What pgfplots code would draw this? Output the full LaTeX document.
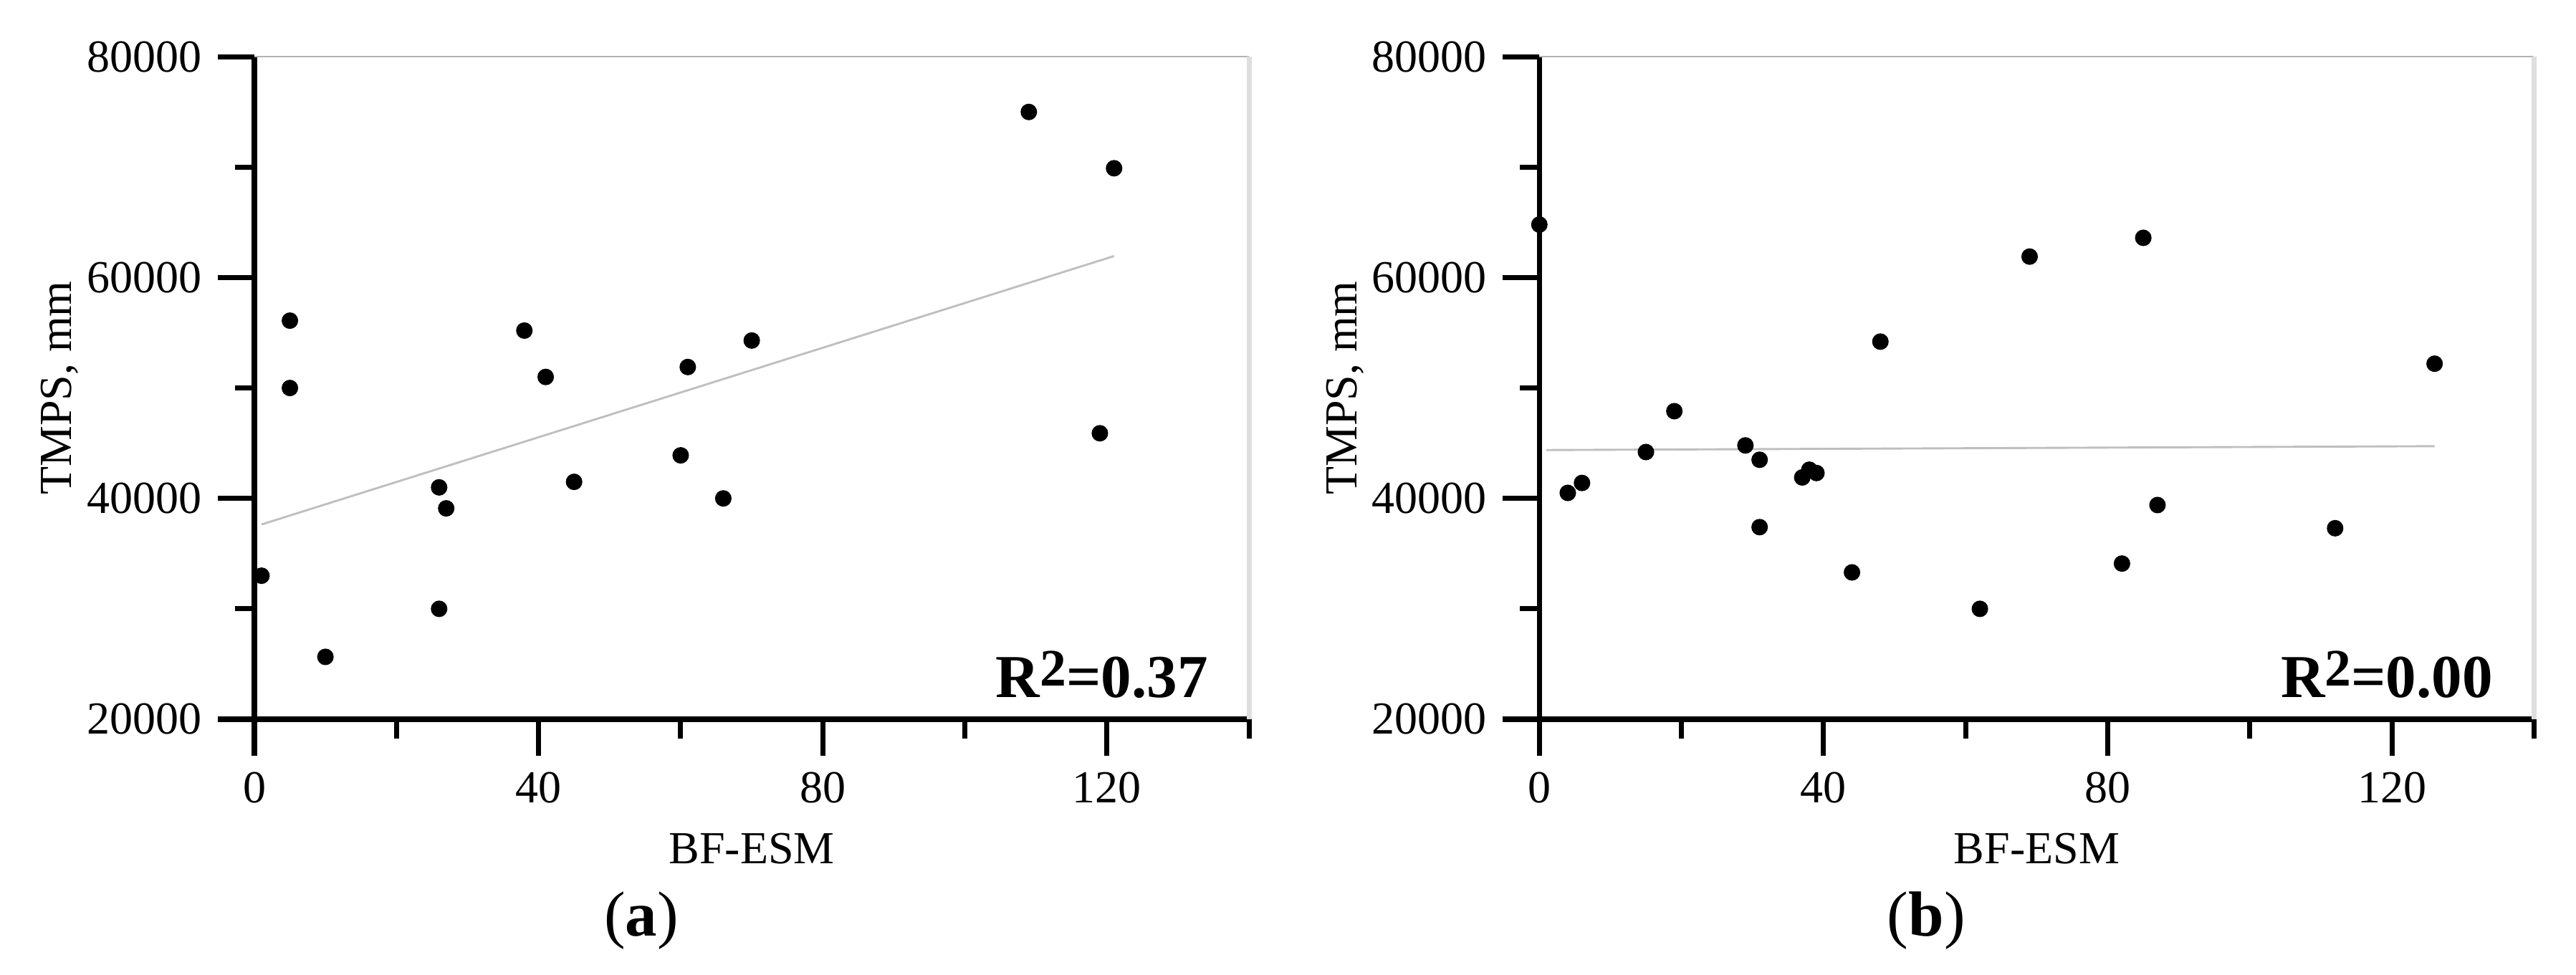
\documentclass[border=0pt]{standalone}
\usepackage{fontspec}
\setmainfont{Liberation Serif}
\usepackage{pgfplots}
\usepackage{pgfplotstable}
\pgfplotsset{compat=1.18}

% (a) BF-ESM vs TMPS
\pgfplotstableread{
x y
1 33000
5 56100
5 50000
10 25650
26 41000
27 39100
26 30000
38 55200
41 51000
45 41500
60 43900
61 51900
66 40000
70 54300
109 75000
121 69900
119 45900
}\dataA

% (b)
\pgfplotstableread{
x y
0 64800
4 40500
6 41400
15 44200
19 47900
29 44800
31 43500
31 37400
37 41900
38 42600
39 42300
44 33300
48 54200
62 30000
69 61900
82 34100
85 63600
87 39400
112 37300
126 52200
}\dataB

\pgfplotsset{
  tmps/.style={
    scale only axis, width=216.9pt, height=144.5pt,
    xmin=0, xmax=140, ymin=20000, ymax=80000,
    clip=false,
    axis x line*=bottom, axis y line*=left,
    axis line style={-, line width=1.1pt, black},
    xtick={0,40,80,120}, ytick={20000,40000,60000,80000},
    minor xtick={20,60,100,140}, minor ytick={30000,50000,70000},
    tick align=outside,
    major tick length=8pt, minor tick length=4.2pt,
    tick style={black, line width=1.1pt},
    scaled y ticks=false,
    /pgf/number format/.cd, fixed, 1000 sep={}, assume math mode=true, /pgfplots/.cd,
    tick label style={font=\fontsize{10}{12}\selectfont},
    label style={font=\fontsize{10}{12}\selectfont},
    xlabel={BF-ESM}, ylabel={TMPS, mm},
    xlabel style={at={(axis description cs:0.5,-0.2184)}, anchor=base},
    ylabel style={at={(axis description cs:-0.1837,0.5)}, anchor=base},
  },
}
\tikzset{r2/.style={anchor=base east, font=\fontsize{13.3}{14}\selectfont\bfseries}}

\begin{document}
\begin{tikzpicture}
\useasboundingbox (-55.47pt,-55.63pt) rectangle (506.25pt,156.875pt);

\begin{axis}[tmps, at={(0,0)}, anchor=south west]
\draw[gray!60, line width=0.4pt] (rel axis cs:0,1) -- (rel axis cs:1,1);
\draw[gray!25, line width=1.1pt] (rel axis cs:1,1) -- (rel axis cs:1,0);
\addplot[no marks, gray!50, line width=0.45pt] coordinates {(1,37640) (121,61950)};
\addplot[only marks, mark=*, mark size=1.6pt, black] table {\dataA};
\node[r2] at (rel axis cs:0.9748,0.0335) {R\raisebox{2.5pt}{\fontsize{11.5}{12}\selectfont 2}=0.37};
\node[font=\fontsize{13.9}{15}\selectfont, anchor=base] at (axis description cs:0.389,-0.3276) {(\textbf{a})};
\end{axis}

\begin{axis}[tmps, at={(280.2pt,0)}, anchor=south west]
\draw[gray!60, line width=0.4pt] (rel axis cs:0,1) -- (rel axis cs:1,1);
\draw[gray!25, line width=1.1pt] (rel axis cs:1,1) -- (rel axis cs:1,0);
\addplot[no marks, gray!50, line width=0.45pt] coordinates {(1,44380) (126,44730)};
\addplot[only marks, mark=*, mark size=1.6pt, black] table {\dataB};
\node[r2] at (rel axis cs:0.9748,0.0335) {R\raisebox{2.5pt}{\fontsize{11.5}{12}\selectfont 2}=0.00};
\node[font=\fontsize{13.9}{15}\selectfont, anchor=base] at (axis description cs:0.389,-0.3276) {(\textbf{b})};
\end{axis}
\end{tikzpicture}
\end{document}
